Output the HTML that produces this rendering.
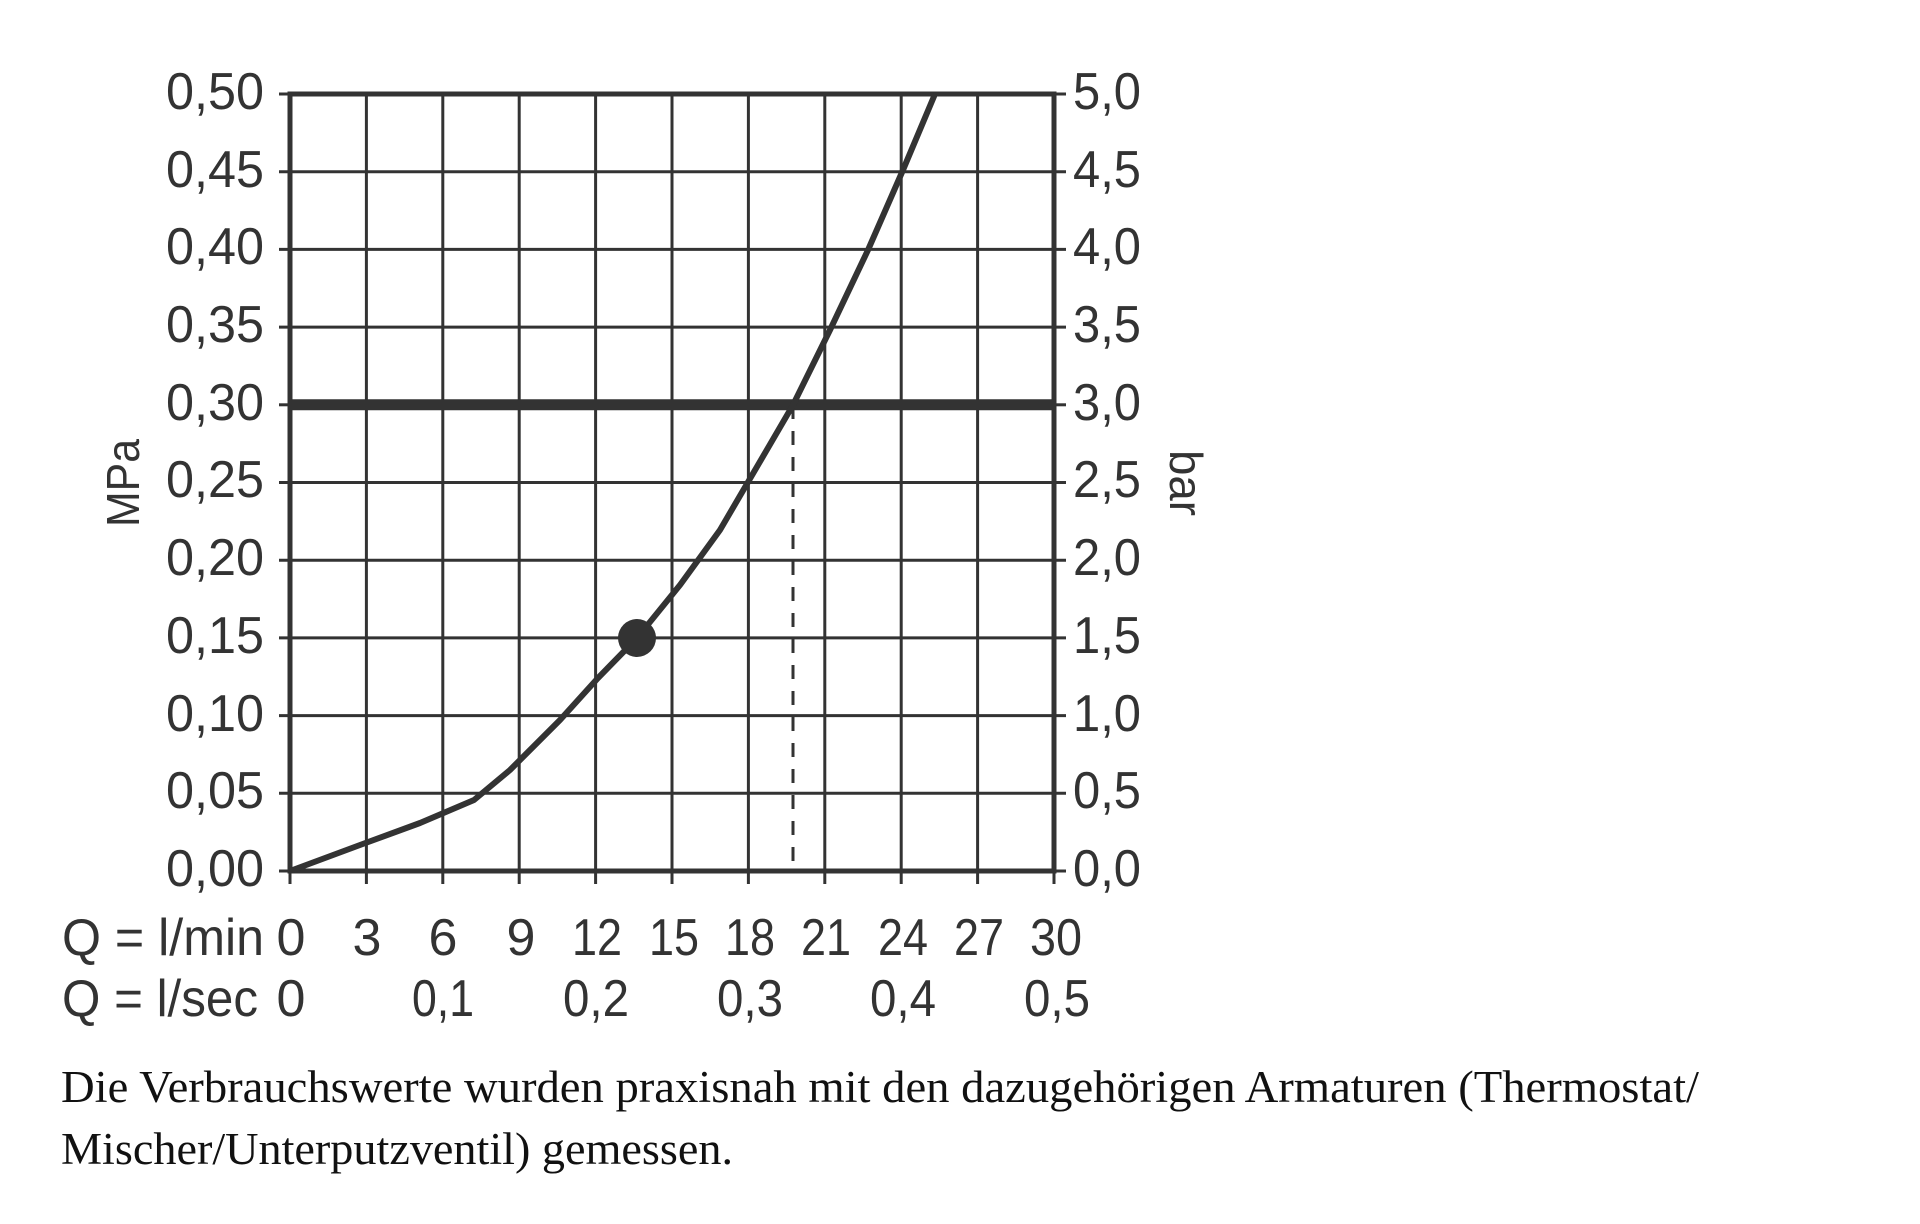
<!DOCTYPE html>
<html><head><meta charset="utf-8"><style>html,body{margin:0;padding:0;background:#fff}svg{display:block}</style></head>
<body>
<svg width="1920" height="1224" viewBox="0 0 1920 1224" xmlns="http://www.w3.org/2000/svg">
<g stroke="#333" stroke-width="3">
<line x1="366.4" y1="94" x2="366.4" y2="884"/><line x1="442.8" y1="94" x2="442.8" y2="884"/><line x1="519.2" y1="94" x2="519.2" y2="884"/><line x1="595.6" y1="94" x2="595.6" y2="884"/><line x1="672" y1="94" x2="672" y2="884"/><line x1="748.4" y1="94" x2="748.4" y2="884"/><line x1="824.8" y1="94" x2="824.8" y2="884"/><line x1="901.2" y1="94" x2="901.2" y2="884"/><line x1="977.6" y1="94" x2="977.6" y2="884"/>
<line x1="279" y1="171.7" x2="1066" y2="171.7"/><line x1="279" y1="249.4" x2="1066" y2="249.4"/><line x1="279" y1="327.1" x2="1066" y2="327.1"/><line x1="279" y1="482.5" x2="1066" y2="482.5"/><line x1="279" y1="560.2" x2="1066" y2="560.2"/><line x1="279" y1="637.9" x2="1066" y2="637.9"/><line x1="279" y1="715.6" x2="1066" y2="715.6"/><line x1="279" y1="793.3" x2="1066" y2="793.3"/>
<line x1="279" y1="94" x2="290" y2="94"/><line x1="1054" y1="94" x2="1066" y2="94"/><line x1="279" y1="871" x2="290" y2="871"/><line x1="1054" y1="871" x2="1066" y2="871"/><line x1="279" y1="404.8" x2="290" y2="404.8"/><line x1="1054" y1="404.8" x2="1066" y2="404.8"/>
<line x1="290" y1="871" x2="290" y2="884"/><line x1="1054" y1="871" x2="1054" y2="884"/>
</g>
<rect x="290" y="94" width="764" height="777" fill="none" stroke="#333" stroke-width="5"/>
<line x1="290" y1="404.8" x2="1054" y2="404.8" stroke="#333" stroke-width="11"/>
<line x1="793" y1="405" x2="793" y2="871" stroke="#333" stroke-width="3" stroke-dasharray="14,12"/>
<path d="M290,871 L360,845 L420,823 L474,800 L510,770 L560,720 L598,678 L637,638 L680,585 L720,530 L758,465 L793,405 L830,330 L868,250 L903,170 L935,94" fill="none" stroke="#333" stroke-width="6" stroke-linejoin="round"/>
<circle cx="637" cy="638" r="19" fill="#333"/>
<g font-family="Liberation Sans, DejaVu Sans, sans-serif" font-size="52" fill="#333">
<g>
<text x="166" y="109" textLength="98" lengthAdjust="spacingAndGlyphs">0,50</text><text x="166" y="187" textLength="98" lengthAdjust="spacingAndGlyphs">0,45</text><text x="166" y="264" textLength="98" lengthAdjust="spacingAndGlyphs">0,40</text><text x="166" y="342" textLength="98" lengthAdjust="spacingAndGlyphs">0,35</text><text x="166" y="420" textLength="98" lengthAdjust="spacingAndGlyphs">0,30</text><text x="166" y="497" textLength="98" lengthAdjust="spacingAndGlyphs">0,25</text><text x="166" y="575" textLength="98" lengthAdjust="spacingAndGlyphs">0,20</text><text x="166" y="653" textLength="98" lengthAdjust="spacingAndGlyphs">0,15</text><text x="166" y="731" textLength="98" lengthAdjust="spacingAndGlyphs">0,10</text><text x="166" y="808" textLength="98" lengthAdjust="spacingAndGlyphs">0,05</text><text x="166" y="886" textLength="98" lengthAdjust="spacingAndGlyphs">0,00</text>
</g>
<g>
<text x="1073" y="109" textLength="68" lengthAdjust="spacingAndGlyphs">5,0</text><text x="1073" y="187" textLength="68" lengthAdjust="spacingAndGlyphs">4,5</text><text x="1073" y="264" textLength="68" lengthAdjust="spacingAndGlyphs">4,0</text><text x="1073" y="342" textLength="68" lengthAdjust="spacingAndGlyphs">3,5</text><text x="1073" y="420" textLength="68" lengthAdjust="spacingAndGlyphs">3,0</text><text x="1073" y="497" textLength="68" lengthAdjust="spacingAndGlyphs">2,5</text><text x="1073" y="575" textLength="68" lengthAdjust="spacingAndGlyphs">2,0</text><text x="1073" y="653" textLength="68" lengthAdjust="spacingAndGlyphs">1,5</text><text x="1073" y="731" textLength="68" lengthAdjust="spacingAndGlyphs">1,0</text><text x="1073" y="808" textLength="68" lengthAdjust="spacingAndGlyphs">0,5</text><text x="1073" y="886" textLength="68" lengthAdjust="spacingAndGlyphs">0,0</text>
</g>
<text transform="translate(139,527) rotate(-90)" font-size="46" textLength="88" lengthAdjust="spacingAndGlyphs">MPa</text>
<text transform="translate(1170,450) rotate(90)" font-size="46" textLength="66" lengthAdjust="spacingAndGlyphs">bar</text>
<text x="62" y="955" textLength="202" lengthAdjust="spacingAndGlyphs">Q = l/min</text>
<text x="62" y="1016" textLength="196" lengthAdjust="spacingAndGlyphs">Q = l/sec</text>
<g text-anchor="middle">
<text x="291" y="955">0</text><text x="367" y="955">3</text><text x="443" y="955">6</text><text x="521" y="955">9</text><text x="597" y="955" textLength="50" lengthAdjust="spacingAndGlyphs">12</text><text x="674" y="955" textLength="50" lengthAdjust="spacingAndGlyphs">15</text><text x="750" y="955" textLength="50" lengthAdjust="spacingAndGlyphs">18</text><text x="826" y="955" textLength="50" lengthAdjust="spacingAndGlyphs">21</text><text x="903" y="955" textLength="50" lengthAdjust="spacingAndGlyphs">24</text><text x="979" y="955" textLength="50" lengthAdjust="spacingAndGlyphs">27</text><text x="1056" y="955" textLength="52" lengthAdjust="spacingAndGlyphs">30</text>
<text x="291" y="1016">0</text><text x="443" y="1016" textLength="62" lengthAdjust="spacingAndGlyphs">0,1</text><text x="596" y="1016" textLength="66" lengthAdjust="spacingAndGlyphs">0,2</text><text x="750" y="1016" textLength="66" lengthAdjust="spacingAndGlyphs">0,3</text><text x="903" y="1016" textLength="66" lengthAdjust="spacingAndGlyphs">0,4</text><text x="1057" y="1016" textLength="66" lengthAdjust="spacingAndGlyphs">0,5</text>
</g>
</g>
<g font-family="Liberation Serif, serif" font-size="45" fill="#111">
<text x="61" y="1102" textLength="1638" lengthAdjust="spacingAndGlyphs">Die Verbrauchswerte wurden praxisnah mit den dazugehörigen Armaturen (Thermostat/</text>
<text x="61" y="1164" textLength="672" lengthAdjust="spacingAndGlyphs">Mischer/Unterputzventil) gemessen.</text>
</g>
</svg>
</body></html>
